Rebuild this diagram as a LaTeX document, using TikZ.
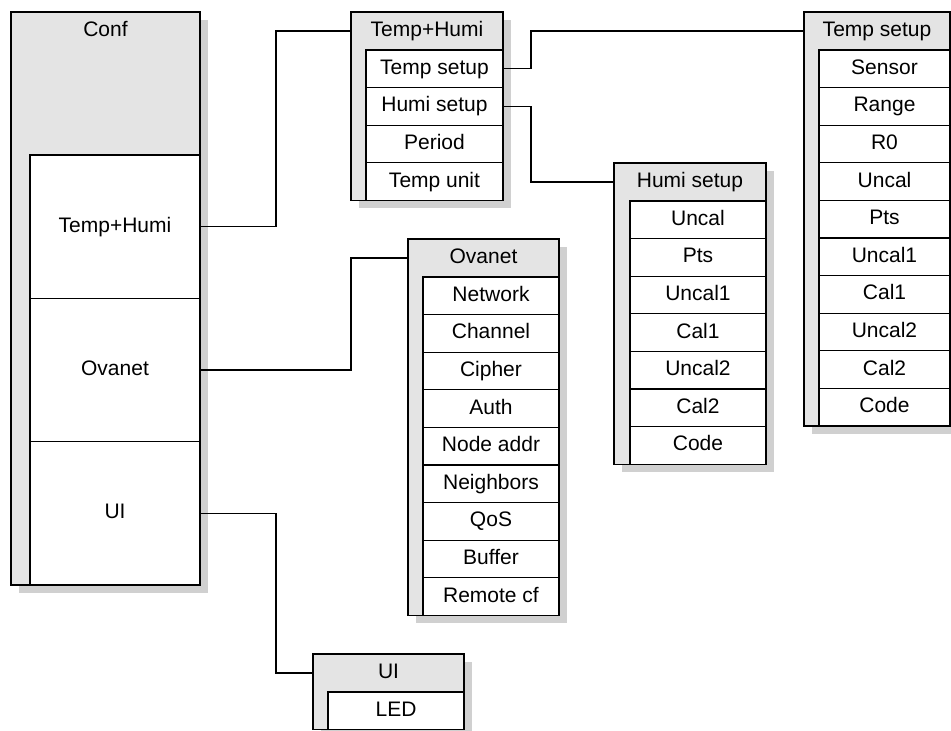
\documentclass[tikz,border=0pt]{standalone}
\usepackage{fontspec}
\setmainfont{Liberation Sans}
\usetikzlibrary{shadows}
\definecolor{hdrgray}{HTML}{E4E4E4}
\definecolor{shadowgray}{HTML}{D0D0D0}

\begin{document}
\begin{tikzpicture}[x=1pt, y=-1pt, line width=1.3pt,
    every node/.style={inner sep=0pt, outer sep=0pt, text height=15pt, text depth=4pt,
        font=\fontsize{21}{21}\selectfont},
    menu/.style={draw, fill=hdrgray, anchor=north west,
        drop shadow={shadow xshift=7.5pt, shadow yshift=-7.5pt, fill=shadowgray, opacity=1}},
    hdr/.style={anchor=north west, minimum height=38pt},
    item/.style={draw, fill=white, anchor=north west, minimum height=37.6pt},
    wire/.style={draw, line width=1.2pt}]
    \useasboundingbox (0,0) rectangle (951,731);

    % Menus
    \node[menu, minimum width=189pt, minimum height=573pt] (conf) at (11,12) {};
    \node[menu, minimum width=152pt, minimum height=188.4pt] (thumi) at (351,12) {};
    \node[menu, minimum width=146pt, minimum height=414pt] (tset) at (804,12) {};
    \node[menu, minimum width=152pt, minimum height=301.2pt] (hset) at (614,163) {};
    \node[menu, minimum width=151pt, minimum height=376.4pt] (ova) at (408,239) {};
    \node[menu, minimum width=151pt, minimum height=75.6pt] (ui) at (313,654) {};

    % Headers
    \node[hdr, minimum width=189pt] (conf-h) at (conf.north west) {Conf};
    \node[hdr, minimum width=152pt] (thumi-h) at (thumi.north west) {Temp+Humi};
    \node[hdr, minimum width=146pt] (tset-h) at (tset.north west) {Temp setup};
    \node[hdr, minimum width=152pt] (hset-h) at (hset.north west) {Humi setup};
    \node[hdr, minimum width=151pt] (ova-h) at (ova.north west) {Ovanet};
    \node[hdr, minimum width=151pt] (ui-h) at (ui.north west) {UI};

    % Items
    \foreach \t [count=\i] in {Temp+Humi, Ovanet, UI} {
        \node[item, minimum width=170pt, minimum height=143.3pt] (conf-\i) at (30,{155+143.3*(\i-1)}) {\t};
    }
    \foreach \t [count=\i] in {Temp setup, Humi setup, Period, Temp unit} {
        \node[item, minimum width=137pt] (thumi-\i) at (366,{50+37.6*(\i-1)}) {\t};
    }
    \foreach \t [count=\i] in {Sensor, Range, R0, Uncal, Pts, Uncal1, Cal1, Uncal2, Cal2, Code} {
        \node[item, minimum width=131pt] (tset-\i) at (819,{50+37.6*(\i-1)}) {\t};
    }
    \foreach \t [count=\i] in {Uncal, Pts, Uncal1, Cal1, Uncal2, Cal2, Code} {
        \node[item, minimum width=136pt] (hset-\i) at (630,{201+37.6*(\i-1)}) {\t};
    }
    \foreach \t [count=\i] in {Network, Channel, Cipher, Auth, Node addr, Neighbors, QoS, Buffer, Remote cf} {
        \node[item, minimum width=136pt] (ova-\i) at (423,{277+37.6*(\i-1)}) {\t};
    }
    \node[item, minimum width=136pt] (ui-1) at (328,692) {LED};

    % Links
    \draw[wire] (conf-1.east) -- ++(76,0) |- (thumi-h.west);
    \draw[wire] (conf-2.east) -- ++(151,0) |- (ova-h.west);
    \draw[wire] (conf-3.east) -- ++(76,0) |- (ui-h.west);
    \draw[wire] (thumi-1.east) -- ++(28,0) |- (tset-h.west);
    \draw[wire] (thumi-2.east) -- ++(28,0) |- (hset-h.west);
\end{tikzpicture}
\end{document}
